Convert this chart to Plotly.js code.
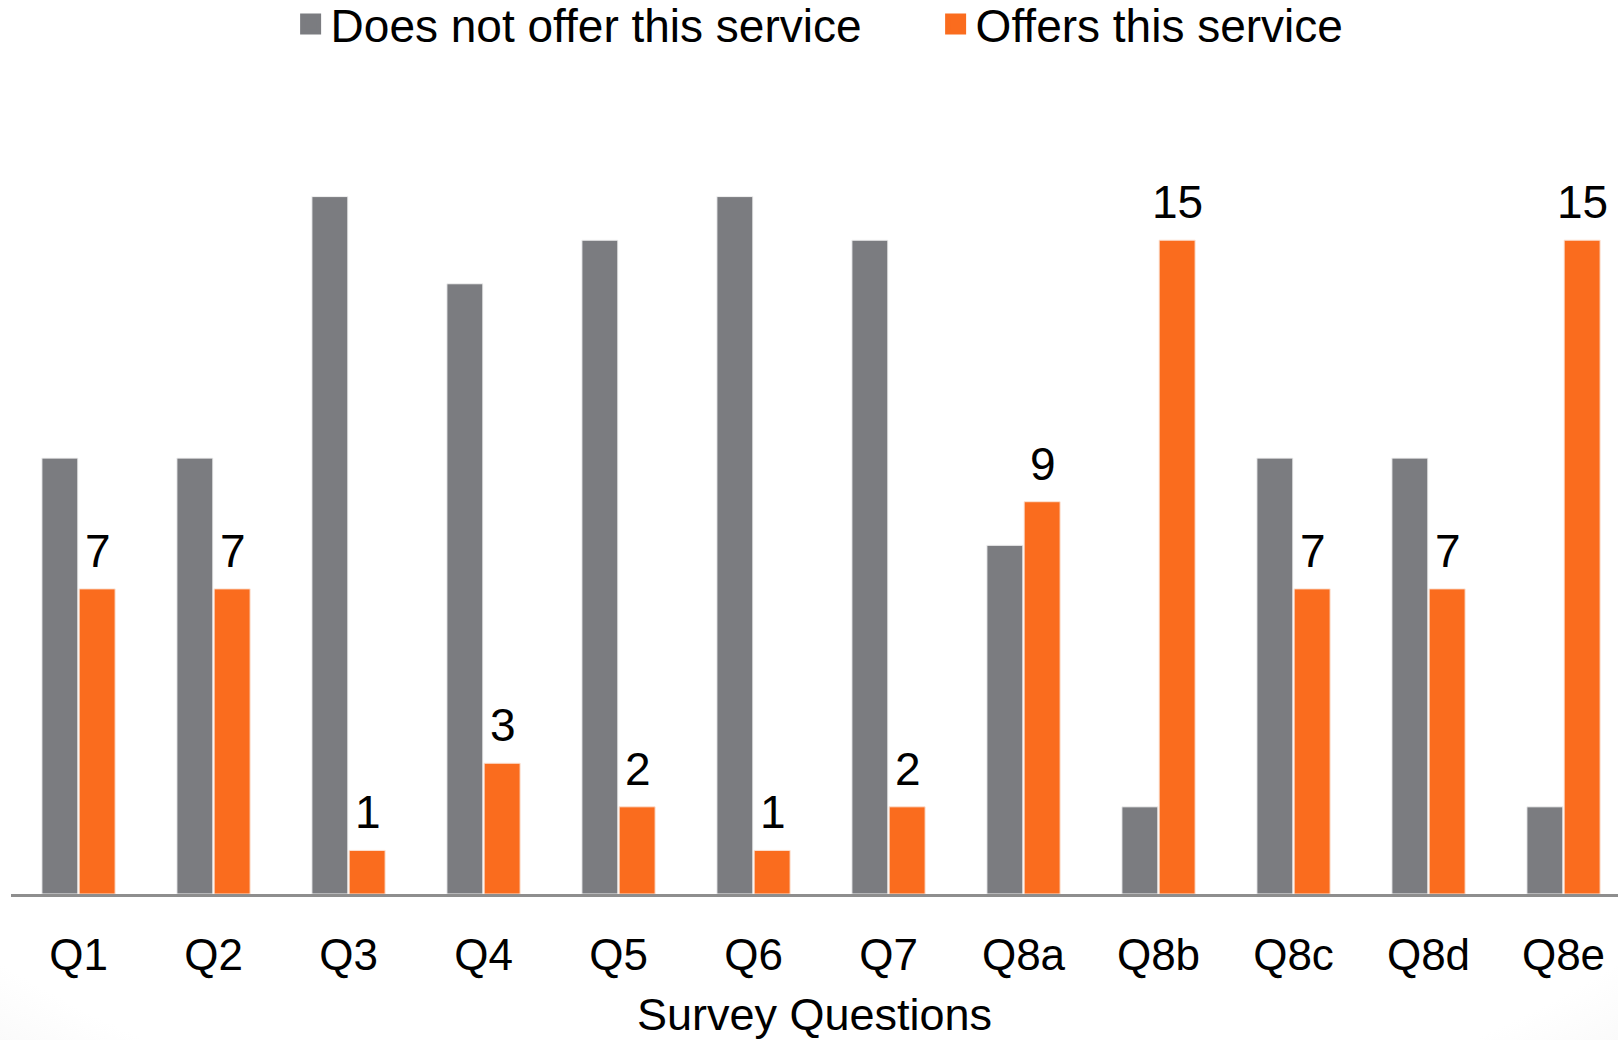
<!DOCTYPE html>
<html>
<head>
<meta charset="utf-8">
<script src="https://cdn.plot.ly/plotly-3.0.1.min.js"></script>
<style>
  html, body { margin: 0; padding: 0; }
  body {
    width: 1618px; height: 1040px; overflow: hidden;
    background: radial-gradient(ellipse 95% 100% at 50% 35%, #ffffff 78%, #ececec 100%);
  }
  #chart { width: 1618px; height: 1040px; }
</style>
</head>
<body>
<div id="chart"></div>
<script>
const categories = ["Q1","Q2","Q3","Q4","Q5","Q6","Q7","Q8a","Q8b","Q8c","Q8d","Q8e"];
const doesNotOffer = [10, 10, 16, 14, 15, 16, 15, 8, 2, 10, 10, 2];
const offers = [7, 7, 1, 3, 2, 1, 2, 9, 15, 7, 7, 15];
const seriesNames = ["Does not offer this service", "Offers this service"];
const grayColor = "#7b7c80";
const orangeColor = "#fa6c1e";
const FONT = "Liberation Sans, Arial, sans-serif";

const traces = [
  { type: "bar", name: seriesNames[0], x: categories, y: doesNotOffer,
    marker: { color: grayColor, line: { color: "#f2f2f2", width: 1 } },
    showlegend: false, hoverinfo: "x+y+name" },
  { type: "bar", name: seriesNames[1], x: categories, y: offers,
    marker: { color: orangeColor, line: { color: "#fbe2d4", width: 1 } },
    showlegend: false, hoverinfo: "x+y+name" },
  // legend proxies (large square swatches)
  { type: "scatter", mode: "markers", name: seriesNames[0], x: [null], y: [null],
    marker: { symbol: "square", size: 16, color: grayColor, line: { color: grayColor, width: 5 } },
    showlegend: true },
  { type: "scatter", mode: "markers", name: seriesNames[1], x: [null], y: [null],
    marker: { symbol: "square", size: 16, color: orangeColor, line: { color: orangeColor, width: 5 } },
    showlegend: true }
];

const annotations = categories.map((c, i) => ({
  x: c, y: offers[i], xref: "x", yref: "y",
  text: String(offers[i]), showarrow: false,
  xanchor: "center", yanchor: "middle",
  xshift: 19, yshift: 38,
  font: { family: FONT, size: 46, color: "#000000" }
}));

const layout = {
  width: 1618, height: 1040,
  margin: { l: 11, r: 0, t: 153, b: 146, pad: 0, autoexpand: false },
  paper_bgcolor: "rgba(0,0,0,0)",
  plot_bgcolor: "rgba(0,0,0,0)",
  barmode: "group",
  bargap: 0.448,
  bargroupgap: 0.035,
  font: { family: FONT, color: "#000000" },
  xaxis: {
    type: "category",
    range: [-0.5, -0.5 + 1607 / 135],
    showgrid: false, zeroline: false,
    showline: true, linecolor: "#8e8e8e", linewidth: 3,
    ticks: "", ticklabelstandoff: 20,
    tickfont: { family: FONT, size: 44, color: "#000000" },
    title: { text: "Survey Questions", standoff: 30,
             font: { family: FONT, size: 45, color: "#000000" } }
  },
  yaxis: {
    range: [0, 17], visible: false, showgrid: false, zeroline: false, fixedrange: true
  },
  legend: {
    orientation: "h", x: 0.174, xanchor: "left", y: 1.174, yanchor: "middle",
    font: { family: FONT, size: 46, color: "#000000" },
    bgcolor: "rgba(0,0,0,0)", itemsizing: "trace", entrywidth: 600
  },
  annotations: annotations,
  showlegend: true
};

Plotly.newPlot("chart", traces, layout, { displayModeBar: false, staticPlot: true });
</script>
</body>
</html>
